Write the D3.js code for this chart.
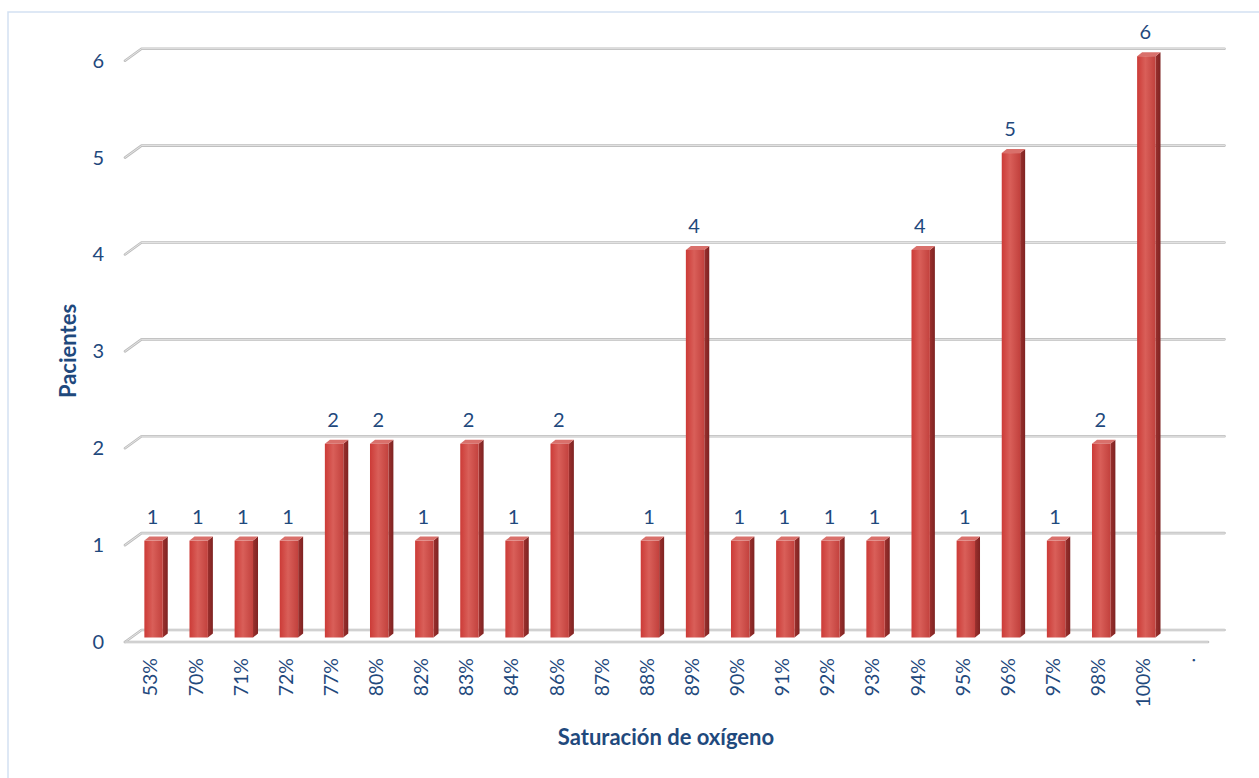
<!DOCTYPE html>
<html>
<head>
<meta charset="utf-8">
<script src="https://cdn.jsdelivr.net/npm/d3@7"></script>
<style>
  html, body { margin: 0; padding: 0; background: #fff; }
  svg { display: block; font-family: Lato, "Open Sans", sans-serif; }
</style>
</head>
<body>
<svg id="chart" width="1259" height="778"></svg>
<script>
// Patients per oxygen-saturation reading
const categories = ["53%","70%","71%","72%","77%","80%","82%","83%","84%","86%","87%","88%","89%","90%","91%","92%","93%","94%","95%","96%","97%","98%","100%","."];
const patients   = [1,1,1,1,2,2,1,2,1,2,null,1,4,1,1,1,1,4,1,5,1,2,6,null];
const yTicks     = [0,1,2,3,4,5,6];

const svg = d3.select("#chart");
const textColor = "#1f497d";

// Front plane of the pseudo-3D plot area
const x = d3.scaleBand().domain(categories).range([125, 1208]);
const y = d3.scaleLinear().domain([0, 6]).range([642, 60.7]);
// Offset from the front plane to the back wall
const depth = { dx: 16.5, dy: -12 };
// Bar placement inside the depth and its own thickness
const barFront = { dx: 6, dy: -4.5 };
const barDepth = { dx: 5, dy: -4 };
const barW = 18.4;

// Chart frame
svg.append("rect")
  .attr("x", 8).attr("y", 12).attr("width", 1270).attr("height", 800)
  .attr("fill", "none").attr("stroke", "#d3e1f2").attr("stroke-width", 1.5);

// Gradients for bar faces
const defs = svg.append("defs");
const gFront = defs.append("linearGradient").attr("id", "barFront")
  .attr("x1", "0").attr("x2", "1").attr("y1", "0").attr("y2", "0");
gFront.append("stop").attr("offset", "0%").attr("stop-color", "#cc3b37");
gFront.append("stop").attr("offset", "45%").attr("stop-color", "#d95f59");
gFront.append("stop").attr("offset", "100%").attr("stop-color", "#c2413d");
const gSide = defs.append("linearGradient").attr("id", "barSide")
  .attr("x1", "0").attr("x2", "1").attr("y1", "0").attr("y2", "0");
gSide.append("stop").attr("offset", "0%").attr("stop-color", "#9b302d");
gSide.append("stop").attr("offset", "100%").attr("stop-color", "#7e2322");

// Gridlines: back wall lines with a short diagonal on the left side wall
const grid = svg.append("g");
function gridStroke(sel) {
  sel.clone().attr("stroke", "#bdbdbd").attr("stroke-width", 2.6);
  sel.attr("stroke", "#e9e9e9").attr("stroke-width", 0.9).raise();
}
yTicks.forEach(v => {
  const yf = y(v);
  const p = d3.path();
  p.moveTo(x.range()[0], yf);
  p.lineTo(x.range()[0] + depth.dx, yf + depth.dy);
  p.lineTo(x.range()[1] + depth.dx, yf + depth.dy);
  const path = grid.append("path").attr("d", p.toString()).attr("fill", "none")
    .attr("stroke-linecap", "round").attr("stroke-linejoin", "round");
  gridStroke(path);
});
// Floor front edge
{
  const path = grid.append("path")
    .attr("d", `M${x.range()[0]},${y(0)}L${x.range()[1]},${y(0)}`)
    .attr("fill", "none").attr("stroke-linecap", "round");
  gridStroke(path);
}

// Bars
const data = categories.map((c, i) => ({ c, v: patients[i] })).filter(d => d.v != null);
const bars = svg.append("g").selectAll("g").data(data).join("g");
const faceX = d => x(d.c) + (x.bandwidth() - barW) / 2 + barFront.dx;
const faceTop = d => y(d.v) + barFront.dy;
const faceBot = () => y(0) + barFront.dy;

bars.append("path") // side
  .attr("fill", "url(#barSide)")
  .attr("d", d => {
    const x1 = faceX(d) + barW;
    return `M${x1},${faceTop(d)}L${x1 + barDepth.dx},${faceTop(d) + barDepth.dy}` +
           `L${x1 + barDepth.dx},${faceBot() + barDepth.dy}L${x1},${faceBot()}Z`;
  });
bars.append("path") // top
  .attr("fill", "#d9706b")
  .attr("d", d => {
    const x0 = faceX(d), t = faceTop(d);
    return `M${x0},${t}L${x0 + barDepth.dx},${t + barDepth.dy}` +
           `L${x0 + barW + barDepth.dx},${t + barDepth.dy}L${x0 + barW},${t}Z`;
  });
bars.append("rect") // front
  .attr("fill", "url(#barFront)")
  .attr("x", faceX)
  .attr("y", faceTop)
  .attr("width", barW)
  .attr("height", d => faceBot() - faceTop(d));

// Value labels
svg.append("g").selectAll("text").data(data).join("text")
  .attr("x", d => faceX(d) + barW / 2 - 1)
  .attr("y", d => faceTop(d) + barDepth.dy - 13)
  .attr("text-anchor", "middle")
  .attr("fill", textColor)
  .attr("font-size", 20)
  .text(d => d.v);

// Y axis labels
svg.append("g").selectAll("text").data(yTicks).join("text")
  .attr("x", 104)
  .attr("y", d => y(d) + 7)
  .attr("text-anchor", "end")
  .attr("fill", textColor)
  .attr("font-size", 20)
  .text(d => d);

// Category labels, rotated
svg.append("g").selectAll("text").data(categories).join("text")
  .attr("transform", d => `translate(${x(d) + x.bandwidth() / 2 + 3},658) rotate(-90)`)
  .attr("dy", "0.35em")
  .attr("text-anchor", "end")
  .attr("fill", textColor)
  .attr("font-size", 19.5)
  .text(d => d);

// Axis titles
svg.append("text")
  .attr("x", 666).attr("y", 745)
  .attr("text-anchor", "middle")
  .attr("fill", textColor)
  .attr("font-size", 22).attr("font-weight", "bold")
  .text("Saturación de oxígeno");
svg.append("text")
  .attr("transform", "translate(76,351) rotate(-90)")
  .attr("text-anchor", "middle")
  .attr("fill", textColor)
  .attr("font-size", 22).attr("font-weight", "bold")
  .text("Pacientes");
</script>
</body>
</html>
